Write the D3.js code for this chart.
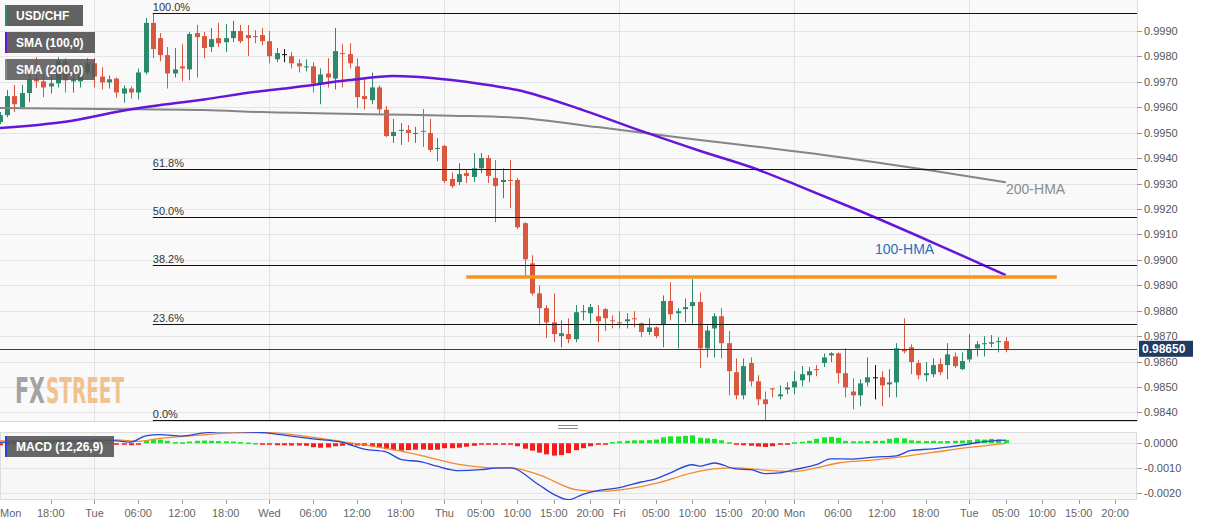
<!DOCTYPE html>
<html><head><meta charset="utf-8">
<script src="https://cdn.jsdelivr.net/npm/d3@7/dist/d3.min.js"></script>
<style>html,body{margin:0;padding:0;background:#fff;}svg{display:block;font-family:"Liberation Sans",Arial,sans-serif;}</style>
</head><body><svg id="c" width="1207" height="526"></svg>
<script>
// ---------- DATA ----------
const startIndex = -1; // first candle index (hourly slots)
const opens = [.99542,.99569,.99644,.99600,.99656,.99713,.99702,.99682,.99694,.99781,.99702,.99702,.99737,.99773,.99721,.99698,.99713,.99654,.99674,.99658,
.99737,.99932,.99872,.99805,.99733,.99761,.99749,.99892,.99880,.99837,.99872,.99856,.99872,.99900,.99884,.99880,.99884,.99860,.99789,.99809,
.99801,.99773,.99757,.99761,.99694,.99733,.99713,.99813,.99809,.99761,.99644,.99628,.99678,.99590,.99487,.99507,.99511,.99495,.99507,.99499,
.99436,.99448,.99318,.99306,.99341,.99326,.99360,.99400,.99322,.99306,.99314,.99314,.99144,.98986,.98868,.98810,.98754,.98700,.98708,.98688,
.98794,.98790,.98778,.98806,.98762,.98754,.98758,.98770,.98750,.98716,.98734,.98746,.98838,.98790,.98806,.98818,.98834,.98652,.98730,.98778,
.98672,.98558,.98467,.98594,.98522,.98451,.98494,.98463,.98490,.98498,.98526,.98546,.98570,.98594,.98624,.98632,.98554,.98482,.98467,.98518,
.98538,.98538,.98510,.98518,.98648,.98656,.98594,.98546,.98550,.98590,.98586,.98620,.98570,.98608,.98652,.98668,.98670,.98676,.98680];
const highs = [.99581,.99668,.99688,.99688,.99737,.99797,.99733,.99725,.99797,.99793,.99753,.99773,.99793,.99793,.99757,.99725,.99717,.99686,.99682,.99753,
.99952,.99971,.99892,.99837,.99833,.99848,.99896,.99924,.99896,.99912,.99932,.99928,.99940,.99924,.99924,.99904,.99912,.99900,.99833,.99829,
.99817,.99789,.99789,.99777,.99753,.99793,.99912,.99848,.99852,.99793,.99717,.99737,.99686,.99605,.99554,.99538,.99530,.99523,.99593,.99554,
.99479,.99452,.99344,.99380,.99356,.99420,.99420,.99412,.99392,.99360,.99392,.99322,.99148,.99018,.98900,.98822,.98868,.98762,.98770,.98822,
.98822,.98826,.98822,.98810,.98782,.98798,.98790,.98798,.98754,.98770,.98738,.98860,.98912,.98810,.98848,.98924,.98872,.98742,.98790,.98810,
.98720,.98612,.98612,.98616,.98546,.98482,.98496,.98506,.98518,.98562,.98582,.98578,.98586,.98632,.98636,.98636,.98652,.98534,.98530,.98616,
.98586,.98562,.98570,.98672,.98770,.98668,.98605,.98598,.98612,.98612,.98672,.98636,.98636,.98708,.98680,.98700,.98704,.98696,.98696];
const lows = [.99534,.99561,.99581,.99592,.99620,.99676,.99640,.99654,.99678,.99658,.99658,.99678,.99725,.99678,.99670,.99674,.99638,.99618,.99634,.99630,
.99729,.99793,.99781,.99674,.99717,.99702,.99706,.99717,.99793,.99817,.99837,.99817,.99856,.99852,.99801,.99852,.99844,.99773,.99777,.99777,
.99753,.99737,.99741,.99658,.99612,.99678,.99670,.99678,.99753,.99596,.99592,.99612,.99574,.99483,.99460,.99452,.99464,.99460,.99444,.99424,
.99388,.99302,.99282,.99294,.99302,.99306,.99341,.99302,.99148,.99242,.99203,.99120,.98932,.98860,.98742,.98692,.98676,.98656,.98672,.98676,
.98762,.98750,.98676,.98720,.98730,.98730,.98730,.98734,.98696,.98704,.98692,.98656,.98762,.98652,.98754,.98742,.98574,.98616,.98616,.98612,
.98467,.98451,.98451,.98502,.98428,.98368,.98459,.98451,.98471,.98471,.98502,.98518,.98542,.98578,.98598,.98514,.98459,.98412,.98424,.98502,
.98451,.98424,.98459,.98459,.98632,.98550,.98530,.98522,.98538,.98546,.98530,.98574,.98566,.98598,.98620,.98620,.98656,.98636,.98636];
const closes = [.99569,.99644,.99612,.99656,.99710,.99702,.99678,.99694,.99781,.99706,.99710,.99729,.99773,.99721,.99698,.99710,.99658,.99674,.99658,.99737,
.99932,.99829,.99805,.99733,.99749,.99753,.99888,.99876,.99833,.99868,.99852,.99872,.99900,.99860,.99872,.99876,.99860,.99801,.99813,.99809,
.99773,.99761,.99761,.99694,.99729,.99717,.99821,.99809,.99773,.99640,.99632,.99678,.99592,.99487,.99503,.99511,.99499,.99499,.99503,.99432,
.99440,.99310,.99290,.99337,.99330,.99360,.99400,.99330,.99290,.99314,.99310,.99128,.99002,.98868,.98810,.98754,.98708,.98711,.98688,.98794,
.98798,.98814,.98758,.98770,.98758,.98750,.98766,.98766,.98716,.98734,.98700,.98838,.98786,.98798,.98814,.98834,.98652,.98722,.98778,.98672,
.98562,.98467,.98582,.98522,.98451,.98432,.98490,.98471,.98498,.98522,.98550,.98562,.98566,.98616,.98632,.98554,.98498,.98467,.98514,.98538,
.98538,.98506,.98518,.98652,.98640,.98598,.98546,.98554,.98586,.98558,.98628,.98582,.98602,.98648,.98668,.98672,.98676,.98680,.98650];

const hma100Idx = [-1, 8, 17, 27, 35, 39, 47, 53, 56, 61, 65, 70, 79, 87, 95, 102, 109, 117, 127, 137];
const hma100 = [.99518,.99543,.99592,.99631,.99664,.99677,.99707,.99723,.99720,.99707,.99692,.99668,.99589,.99507,.99429,.99365,.99286,.99192,.99068,.98940];
const hma200Idx = [-1, 13, 27, 35, 52, 61, 70, 81, 88, 95, 102, 117, 127, 137];
const hma200 = [.99597,.99593,.99589,.99581,.99572,.99567,.99559,.99522,.99497,.99471,.99448,.99393,.99350,.99305];

const macdIdx = [-1,7,14,17,19,21,24,27,31,35,39,42,46,49,52,54,57,59,62,65,67,69,73,75,77,79,81,84,87,89,91,94,95,97,100,102,104,106,108,111,113,116,119,122,124,127,129,132,134,137];
const macdVals = [0.00004,0.00010,0.00012,0.00005,0.00030,0.00035,0.00029,0.00042,0.00047,0.00043,0.00029,0.00018,0.00004,-0.00024,-0.00035,-0.00065,-0.00076,-0.00093,-0.00111,-0.00107,
-0.00101,-0.00100,-0.00169,-0.00207,-0.00229,-0.00207,-0.00192,-0.00180,-0.00157,-0.00144,-0.00120,-0.00087,-0.00093,-0.00080,-0.00104,-0.00107,-0.00123,-0.00120,-0.00107,-0.00087,
-0.00063,-0.00064,-0.00056,-0.00051,-0.00029,-0.00023,-0.00016,-0.00003,0.00007,0.00013];
const signalIdx = [-1,15,18,21,26,31,36,41,46,52,57,62,67,69,73,78,81,87,89,94,97,100,104,108,111,114,119,122,127,132,137];
const signalVals = [0.00010,0.00014,0.00008,0.00020,0.00032,0.00042,0.00043,0.00028,0.00007,-0.00021,-0.00051,-0.00086,-0.00100,-0.00100,-0.00128,-0.00188,-0.00195,-0.00176,-0.00163,-0.00120,
-0.00104,-0.00100,-0.00109,-0.00115,-0.00100,-0.00080,-0.00067,-0.00057,-0.00037,-0.00017,0.00000];
const histVals = [-0.00008,-0.00008,-0.00004,0.00005,0.00005,0.00005,0.00005,0.00008,0.00008,0.00008,0.00008,0.00008,0.00008,0.00008,0.00008,0.00003,-0.00003,-0.00005,-0.00008,-0.00003,
0.00012,0.00016,0.00015,0.00010,0.00005,0.00004,0.00007,0.00010,0.00011,0.00010,0.00009,0.00008,0.00007,0.00005,0.00003,0.00001,-0.00003,-0.00006,-0.00008,-0.00008,
-0.00009,-0.00009,-0.00010,-0.00016,-0.00018,-0.00017,-0.00012,-0.00010,-0.00008,-0.00009,-0.00011,-0.00012,-0.00018,-0.00024,-0.00028,-0.00030,-0.00028,-0.00026,-0.00025,-0.00027,
-0.00026,-0.00020,-0.00020,-0.00018,-0.00014,-0.00010,-0.00005,-0.00004,-0.00004,-0.00003,-0.00004,-0.00012,-0.00022,-0.00030,-0.00038,-0.00045,-0.00050,-0.00048,-0.00040,-0.00028,
-0.00020,-0.00012,-0.00004,-0.00001,0.00005,0.00008,0.00010,0.00012,0.00012,0.00013,0.00015,0.00024,0.00028,0.00028,0.00030,0.00032,0.00022,0.00020,0.00018,0.00012,
0.00004,-0.00006,-0.00008,-0.00010,-0.00013,-0.00015,-0.00012,-0.00006,-0.00002,0.00004,0.00006,0.00010,0.00018,0.00024,0.00026,0.00022,0.00010,0.00008,0.00008,0.00009,
0.00010,0.00010,0.00018,0.00022,0.00020,0.00012,0.00010,0.00009,0.00010,0.00008,0.00009,0.00010,0.00011,0.00013,0.00016,0.00015,0.00018,0.00016,0.00013];

const priceTicks = [0.9840,0.9850,0.9860,0.9870,0.9880,0.9890,0.9900,0.9910,0.9920,0.9930,0.9940,0.9950,0.9960,0.9970,0.9980,0.9990];
const macdTicks = [0.0000,-0.0010,-0.0020];
const xLabelIdx = [0,6,12,18,24,30,36,42,48,54,60,65,70,75,80,84,89,94,99,104,108,114,120,126,132,137,142,147,152];
const xLabels = ["Mon","18:00","Tue","06:00","12:00","18:00","Wed","06:00","12:00","18:00","Thu","05:00","10:00","15:00","20:00","Fri","05:00","10:00","15:00","20:00","Mon","06:00","12:00","18:00","Tue","05:00","10:00","15:00","20:00"];
const dayNames = ["Mon","Tue","Wed","Thu","Fri","Sat","Sun"];
const fibRatios = [1, 0.618, 0.5, 0.382, 0.236, 0];
const fibLabels = ["100.0%","61.8%","50.0%","38.2%","23.6%","0.0%"];
const resistance = {price: 0.98932, from: 63, to: 144};
const currentPrice = 0.98650;
const legendLabels = ["USD/CHF","SMA (100,0)","SMA (200,0)"];
const macdLabel = "MACD (12,26,9)";

// ---------- LAYOUT ----------
const plotR = 1137;
const mainTop = 0, mainBot = 421, macdTop = 432, macdBot = 500;
const svg = d3.select("#c");
const x = d3.scaleLinear().domain([-0.96, 155]).range([0, plotR]);
const y = d3.scaleLinear().domain([0.98366, 1.00022]).range([mainBot, mainTop]);
const ym = d3.scaleLinear().domain([-0.0023, 0.000457]).range([macdBot, macdTop]);

const defs = svg.append("defs");
defs.append("clipPath").attr("id","cm").append("rect").attr("x",0).attr("y",mainTop).attr("width",plotR).attr("height",mainBot-mainTop+1);
defs.append("clipPath").attr("id","cd").append("rect").attr("x",0).attr("y",macdTop).attr("width",plotR).attr("height",macdBot-macdTop);

// panel backgrounds
svg.append("rect").attr("x",0).attr("y",mainTop).attr("width",plotR).attr("height",mainBot-mainTop).attr("fill","#f9f9fa");
svg.append("rect").attr("x",0.5).attr("y",macdTop+0.5).attr("width",plotR-1).attr("height",macdBot-macdTop-1).attr("fill","#f7f7f8").attr("stroke","#dcdcdc");

const gMain = svg.append("g").attr("clip-path","url(#cm)");
const gMacd = svg.append("g").attr("clip-path","url(#cd)");

// horizontal grid
gMain.selectAll("line.hg").data(priceTicks).join("line")
  .attr("x1",0).attr("x2",plotR).attr("y1",d=>Math.round(y(d))+0.5).attr("y2",d=>Math.round(y(d))+0.5)
  .attr("stroke","#e4e4e6").attr("stroke-width",1);
gMacd.selectAll("line.hg").data(macdTicks).join("line")
  .attr("x1",0).attr("x2",plotR).attr("y1",d=>Math.round(ym(d))+0.5).attr("y2",d=>Math.round(ym(d))+0.5)
  .attr("stroke","#e3e3e5");
// vertical day grid
const dayIdx = xLabelIdx.filter((d,i)=>dayNames.includes(xLabels[i]) && i>0);
[gMain,gMacd].forEach(g=>{
  g.selectAll("line.vg").data(dayIdx).join("line")
    .attr("x1",d=>Math.round(x(d))+0.5).attr("x2",d=>Math.round(x(d))+0.5)
    .attr("y1",0).attr("y2",macdBot).attr("stroke","#e3e3e5");
});
// main panel borders
svg.append("line").attr("x1",0).attr("x2",plotR).attr("y1",mainBot+0.5).attr("y2",mainBot+0.5).attr("stroke","#d6d6d8");
svg.append("line").attr("x1",plotR+0.5).attr("x2",plotR+0.5).attr("y1",0).attr("y2",mainBot+1).attr("stroke","#dcdcdc");

// FXSTREET logo (two separate words)
const logoFont = "'Liberation Sans Narrow','DejaVu Sans Condensed','Liberation Sans',sans-serif";
svg.append("text").attr("transform","translate(15,403) scale(1,1.45)")
  .attr("font-family",logoFont).attr("font-weight","bold").attr("font-size",24)
  .attr("textLength",30).attr("lengthAdjust","spacingAndGlyphs").attr("fill","#a3a3a3").text("FX");
svg.append("text").attr("transform","translate(46,403) scale(1,1.45)")
  .attr("font-family",logoFont).attr("font-weight","bold").attr("font-size",24)
  .attr("textLength",78).attr("lengthAdjust","spacingAndGlyphs").attr("fill","#efc28f").text("STREET");

// candles
const candles = opens.map((o,k)=>({i:startIndex+k,o,h:highs[k],l:lows[k],c:closes[k]}));
const green = "#2b8a6c", red = "#d9573f";
const col = d => d.c>d.o?green:(d.c<d.o?red:"#111");
gMain.selectAll("line.wick").data(candles).join("line")
  .attr("x1",d=>Math.round(x(d.i))+0.5).attr("x2",d=>Math.round(x(d.i))+0.5)
  .attr("y1",d=>y(d.h)).attr("y2",d=>y(d.l)).attr("stroke",col).attr("stroke-width",1);
gMain.selectAll("rect.body").data(candles).join("rect")
  .attr("x",d=>Math.round(x(d.i))-2).attr("width",5)
  .attr("y",d=>y(Math.max(d.o,d.c))).attr("height",d=>Math.max(1,Math.abs(y(d.o)-y(d.c))))
  .attr("fill",col);

// HMA lines
const lineGen = (yy) => d3.line().x(d=>x(d[0])).y(d=>yy(d[1])).curve(d3.curveMonotoneX);
gMain.append("path").datum(hma200Idx.map((d,k)=>[d,hma200[k]])).attr("d",lineGen(y))
  .attr("fill","none").attr("stroke","#858585").attr("stroke-width",2);
gMain.append("path").datum(hma100Idx.map((d,k)=>[d,hma100[k]])).attr("d",lineGen(y))
  .attr("fill","none").attr("stroke","#6516d8").attr("stroke-width",2.5);

// Fibonacci levels
const hi = d3.max(highs), lo = d3.min(lows);
const fibStart = startIndex + highs.indexOf(hi);
const fibs = fibRatios.map((r,k)=>({p: lo + r*(hi-lo), label: fibLabels[k]}));
svg.selectAll("line.fib").data(fibs).join("line")
  .attr("x1",x(fibStart)).attr("x2",plotR)
  .attr("y1",d=>Math.min(mainBot,Math.round(y(d.p)))+0.5).attr("y2",d=>Math.min(mainBot,Math.round(y(d.p)))+0.5)
  .attr("stroke","#111").attr("stroke-width",1.2);
svg.selectAll("text.fib").data(fibs).join("text")
  .attr("x",x(fibStart)).attr("y",d=>Math.round(y(d.p))-2)
  .attr("font-size",11).attr("fill","#333").text(d=>d.label);

// resistance line
gMain.append("line").attr("x1",x(resistance.from)).attr("x2",x(resistance.to))
  .attr("y1",y(resistance.price)).attr("y2",y(resistance.price))
  .attr("stroke","#f7941d").attr("stroke-width",3.5);

// current price line
gMain.append("line").attr("x1",0).attr("x2",plotR).attr("y1",Math.round(y(currentPrice))+0.5).attr("y2",Math.round(y(currentPrice))+0.5)
  .attr("stroke","#22406a").attr("stroke-width",1);

// HMA labels
svg.append("text").attr("x",875).attr("y",254).attr("font-size",14).attr("fill","#2d6db8").text("100-HMA");
svg.append("text").attr("x",1006).attr("y",194).attr("font-size",14).attr("fill","#8a8a8a").text("200-HMA");

// splitter handle
[425.5,428.5].forEach(v=>svg.append("line").attr("x1",558).attr("x2",578).attr("y1",v).attr("y2",v).attr("stroke","#8a8a8a"));

// price axis
const gAx = svg.append("g");
gAx.selectAll("line").data(priceTicks).join("line")
  .attr("x1",plotR).attr("x2",plotR+5).attr("y1",d=>Math.round(y(d))+0.5).attr("y2",d=>Math.round(y(d))+0.5).attr("stroke","#999");
gAx.selectAll("text").data(priceTicks).join("text")
  .attr("x",plotR+7).attr("y",d=>y(d)+4).attr("font-size",11).attr("fill","#555").text(d=>d.toFixed(4));
const gAm = svg.append("g");
gAm.selectAll("line").data(macdTicks).join("line")
  .attr("x1",plotR).attr("x2",plotR+5).attr("y1",d=>Math.round(ym(d))+0.5).attr("y2",d=>Math.round(ym(d))+0.5).attr("stroke","#999");
gAm.selectAll("text").data(macdTicks).join("text")
  .attr("x",plotR+7).attr("y",d=>ym(d)+4).attr("font-size",11).attr("fill","#555").text(d=>d.toFixed(4));

// current price badge
const cpy = y(currentPrice);
svg.append("rect").attr("x",plotR+2).attr("y",cpy-8).attr("width",54).attr("height",16).attr("fill","#1f3b63");
svg.append("text").attr("x",plotR+5).attr("y",cpy+4.5).attr("font-size",12).attr("font-weight","bold").attr("fill","#fff").text(currentPrice.toFixed(5));

// MACD histogram
gMacd.selectAll("rect.h").data(histVals.map((v,k)=>({i:startIndex+k,v}))).join("rect")
  .attr("x",d=>Math.round(x(d.i))-2).attr("width",5)
  .attr("y",d=>Math.min(ym(d.v),ym(0))).attr("height",d=>Math.max(1.5,Math.abs(ym(d.v)-ym(0))))
  .attr("fill",d=>d.v>=0?"#19e62b":"#f51c1c");
gMacd.append("path").datum(signalIdx.map((d,k)=>[d,signalVals[k]])).attr("d",lineGen(ym))
  .attr("fill","none").attr("stroke","#f28a2c").attr("stroke-width",1.3);
gMacd.append("path").datum(macdIdx.map((d,k)=>[d,macdVals[k]])).attr("d",lineGen(ym))
  .attr("fill","none").attr("stroke","#2a45d6").attr("stroke-width",1.3);

// x axis
const gX = svg.append("g");
gX.selectAll("line").data(xLabelIdx.slice(1)).join("line")
  .attr("x1",d=>Math.round(x(d))+0.5).attr("x2",d=>Math.round(x(d))+0.5).attr("y1",macdBot).attr("y2",macdBot+4).attr("stroke","#999");
gX.selectAll("text").data(xLabelIdx).join("text")
  .attr("x",(d,k)=>k===0?0:x(d)).attr("y",517).attr("text-anchor",(d,k)=>k===0?"start":"middle")
  .attr("font-size",11).attr("fill","#666").text((d,k)=>xLabels[k]);

// legends
const legColors = [green,"#6516d8","#858585"];
legendLabels.forEach((t,k)=>{
  const yy = 5 + k*27;
  const w = k===0?78:90;
  svg.append("rect").attr("x",5).attr("y",yy).attr("width",w).attr("height",21).attr("fill","#555").attr("opacity",k===2?0.85:0.92);
  svg.append("rect").attr("x",5).attr("y",yy).attr("width",2).attr("height",21).attr("fill",legColors[k]);
  svg.append("text").attr("x",16).attr("y",yy+15).attr("font-size",12).attr("font-weight","bold").attr("fill","#fff").text(t);
});
svg.append("rect").attr("x",5).attr("y",436).attr("width",109).attr("height",21).attr("fill","#555").attr("opacity",0.9);
svg.append("rect").attr("x",5).attr("y",436).attr("width",2).attr("height",21).attr("fill","#2a45d6");
svg.append("text").attr("x",16).attr("y",451).attr("font-size",12).attr("font-weight","bold").attr("fill","#fff").text(macdLabel);
</script></body></html>
